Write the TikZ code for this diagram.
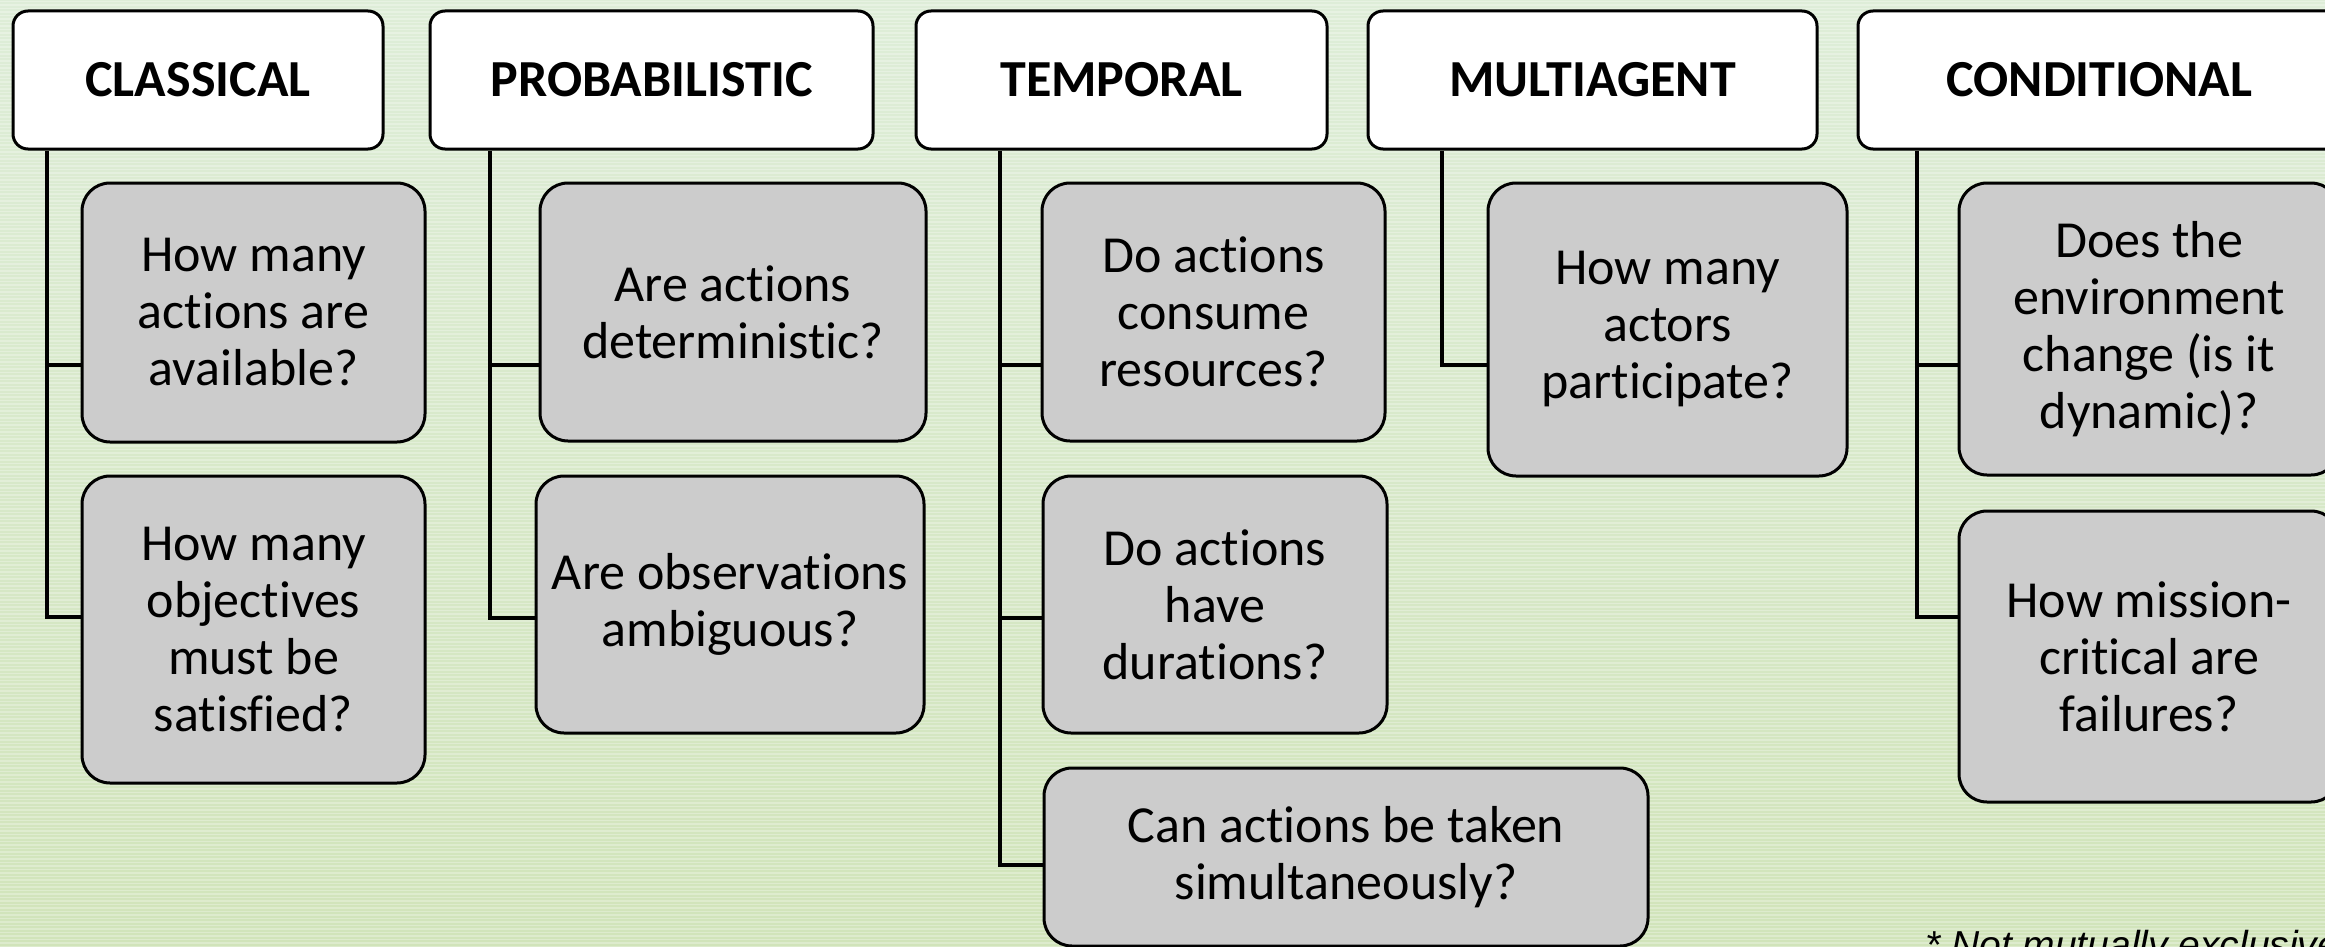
\documentclass[tikz,border=0pt]{standalone}
\usepackage{fontspec}
\setmainfont{Carlito}[Ligatures=NoCommon]
\newfontfamily\notefont{Liberation Sans}
\pgfdeclarelayer{paper}
\pgfdeclarelayer{links}
\pgfsetlayers{paper,links,main}
\begin{document}
\begin{tikzpicture}[x=1pt,y=-1pt,
  hdr/.style={draw=black, line width=3pt, fill=white, rounded corners=15pt,
    inner sep=0pt, align=center, minimum height=138pt,
    font=\fontsize{52}{57}\selectfont\bfseries},
  qbox/.style={draw=black, line width=3pt, fill=boxgray, rounded corners=28pt,
    inner sep=0pt, align=center, font=\fontsize{52}{57}\selectfont},
  conn/.style={draw=black, line width=4pt}]
\definecolor{boxgray}{HTML}{CCCCCC}
\definecolor{bgtop}{HTML}{DEEDD8}
\definecolor{bgbot}{HTML}{D1E4BA}

\useasboundingbox (0,0) rectangle (2325,947);
\clip (0,0) rectangle (2325,947);

% background with fine horizontal stripes
\begin{pgfonlayer}{paper}
\shade[top color=bgtop, bottom color=bgbot] (0,0) rectangle (2325,947);
\foreach \yy in {1.5,5,...,947}
  \draw[white, opacity=0.28, line width=1.4pt] (0,\yy) -- (2325,\yy);
\end{pgfonlayer}

% category headers
\node[hdr, minimum width=370pt] (h1) at (198,80) {CLASSICAL};
\node[hdr, minimum width=443pt] (h2) at (651.5,80) {PROBABILISTIC};
\node[hdr, minimum width=411pt] (h3) at (1121.5,80) {TEMPORAL};
\node[hdr, minimum width=449pt] (h4) at (1592.5,80) {MULTIAGENT};
\node[hdr, minimum width=483pt] (h5) at (2099.5,80) {CONDITIONAL};

% question boxes
\node[qbox, minimum width=343pt, minimum height=259pt] (c11) at (253.5,312.5)
  {How many\\actions are\\available?};
\node[qbox, minimum width=343pt, minimum height=307pt] (c12) at (253.5,629.5)
  {How many\\objectives\\must be\\satisfied?};
\node[qbox, minimum width=386pt, minimum height=258pt] (c21) at (733,312)
  {Are actions\\deterministic?};
\node[qbox, minimum width=388pt, minimum height=257pt] (c22) at (730,604.5)
  {Are observations\\ambiguous?};
\node[qbox, minimum width=343pt, minimum height=258pt] (c31) at (1213.5,312)
  {Do actions\\consume\\resources?};
\node[qbox, minimum width=344pt, minimum height=257pt] (c32) at (1215,604.5)
  {Do actions\\have\\durations?};
\node[qbox, minimum width=604pt, minimum height=178pt] (c33) at (1346,857)
  {Can actions be taken\\simultaneously?};
\node[qbox, minimum width=359pt, minimum height=293pt] (c41) at (1667.5,329.5)
  {How many\\actors\\participate?};
\node[qbox, minimum width=380pt, minimum height=292pt] (c51) at (2149,329)
  {Does the\\environment\\change (is it\\dynamic)?};
\node[qbox, minimum width=380pt, minimum height=291pt] (c52) at (2149,656.5)
  {How mission-\\critical are\\failures?};

% branch points on each column's trunk
\coordinate (j11) at (47,365);   \coordinate (j12) at (47,617);
\coordinate (j21) at (490,365);  \coordinate (j22) at (490,618);
\coordinate (j31) at (1000,365); \coordinate (j32) at (1000,618); \coordinate (j33) at (1000,865);
\coordinate (j41) at (1442,365);
\coordinate (j51) at (1917,365); \coordinate (j52) at (1917,617);

% connectors, beneath the boxes
\begin{pgfonlayer}{links}
\draw[conn] (h1.south -| j11) |- (c12.west |- j12);
\draw[conn] (j11) -- (c11.west |- j11);
\draw[conn] (h2.south -| j21) |- (c22.west |- j22);
\draw[conn] (j21) -- (c21.west |- j21);
\draw[conn] (h3.south -| j31) |- (c33.west |- j33);
\draw[conn] (j31) -- (c31.west |- j31);
\draw[conn] (j32) -- (c32.west |- j32);
\draw[conn] (h4.south -| j41) |- (c41.west |- j41);
\draw[conn] (h5.south -| j51) |- (c52.west |- j52);
\draw[conn] (j51) -- (c51.west |- j51);
\end{pgfonlayer}

% footnote
\node[anchor=base west, inner sep=0pt, font=\notefont\itshape\fontsize{39}{44}\selectfont]
  (note) at (1925,958) {* Not mutually exclusive};
\end{tikzpicture}
\end{document}
